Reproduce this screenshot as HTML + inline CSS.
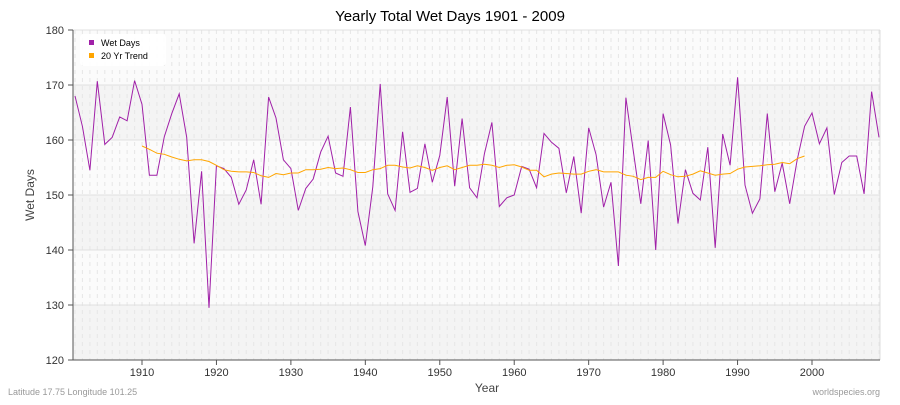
<!DOCTYPE html>
<html><head><meta charset="utf-8"><style>
body{margin:0;background:#fff;font-family:"Liberation Sans",sans-serif;}
</style></head><body>
<svg id="s" width="900" height="400" xmlns="http://www.w3.org/2000/svg" font-family="Liberation Sans, sans-serif"></svg>
<script>
const wd=[168,162.5,154.5,170.7,159.2,160.5,164.2,163.5,170.8,166.5,153.6,153.6,160.6,164.8,168.4,160.5,141.2,154.3,129.5,155.3,154.8,153.2,148.3,150.9,156.4,148.3,167.8,164,156.4,154.8,147.2,151.2,152.9,157.8,160.7,154,153.4,166,147,140.8,151.5,170.2,150.2,147.2,161.5,150.5,151.2,159.3,152.3,157.2,167.8,151.6,163.9,151.3,149.5,157.5,163.2,147.9,149.5,150,155.2,154.7,151.3,161.2,159.6,158.5,150.4,157,146.7,162.2,157.3,147.8,152.3,137.1,167.7,158,148.4,159.9,140,164.8,159.1,144.8,154.6,150.3,149.1,158.7,140.4,161.1,155.4,171.4,151.8,146.7,149.3,164.8,150.6,155.8,148.4,156.3,162.5,164.9,159.3,162.2,150.1,155.9,157.1,157.1,150.2,168.8,160.5];
const tr=[158.9,158.3,157.6,157.4,156.9,156.5,156.2,156.4,156.4,156.1,155.4,154.6,154.3,154.2,154.2,154.1,153.5,153.2,153.9,153.7,154,154,154.6,154.6,154.7,155,154.8,154.9,154.6,154.1,154.1,154.6,154.8,155.4,155.4,155.1,154.9,155.3,155,154.5,155,155.3,154.6,155,155.4,155.4,155.6,155.4,155,155.4,155.5,155.1,154.5,154.5,153.3,153.8,154,153.9,153.8,153.8,154.3,154.6,154.2,154.2,154.2,153.6,153.4,152.8,153.2,153.2,154.3,153.7,153.3,153.4,153.8,154.4,154,153.6,153.8,153.9,154.7,155.1,155.2,155.3,155.5,155.6,155.9,155.7,156.6,157.1];
const X=y=>142+(y-1910)*7.4444, Y=v=>30+(180-v)*5.5;
let h='';
h+='<rect x="73" y="30" width="807" height="330" fill="#fff"/>';
[[170,180,'#fbfbfb'],[160,170,'#f4f4f4'],[150,160,'#fbfbfb'],[140,150,'#f4f4f4'],[130,140,'#fbfbfb'],[120,130,'#f4f4f4']].forEach(b=>{h+=`<rect x="73" y="${Y(b[1])}" width="807" height="55" fill="${b[2]}"/>`;});
for(let y=1901;y<=2009;y++){const x=X(y).toFixed(1);h+=`<line x1="${x}" y1="30" x2="${x}" y2="360" stroke="#e6e6e6" stroke-dasharray="4,4" stroke-width="1"/>`;}
for(let v=120;v<=180;v+=10){h+=`<line x1="73" y1="${Y(v)}" x2="880" y2="${Y(v)}" stroke="#e0e0e0"/>`;h+=`<line x1="68" y1="${Y(v)}" x2="73" y2="${Y(v)}" stroke="#555"/>`;h+=`<text x="64" y="${Y(v)+4}" font-size="11" fill="#333" text-anchor="end">${v}</text>`;}
h+='<line x1="880" y1="30" x2="880" y2="360" stroke="#ddd"/>';
h+='<line x1="73" y1="30" x2="73" y2="360" stroke="#555"/><line x1="73" y1="360" x2="880" y2="360" stroke="#555"/>';
for(let y=1910;y<=2000;y+=10){const x=X(y);h+=`<line x1="${x}" y1="360" x2="${x}" y2="365" stroke="#555"/><text x="${x}" y="376" font-size="11" fill="#333" text-anchor="middle">${y}</text>`;}
h+=`<polyline fill="none" stroke="#a020a8" stroke-width="1" points="${wd.map((v,i)=>X(1901+i).toFixed(1)+','+Y(v).toFixed(1)).join(' ')}"/>`;
h+=`<polyline fill="none" stroke="#ffa500" stroke-width="1" points="${tr.map((v,i)=>X(1910+i).toFixed(1)+','+Y(v).toFixed(1)).join(' ')}"/>`;
h+='<text x="450" y="21" font-size="15" fill="#000" text-anchor="middle">Yearly Total Wet Days 1901 - 2009</text>';
h+='<text x="487" y="392" font-size="12" fill="#444" text-anchor="middle">Year</text>';
h+='<text x="34" y="195" font-size="12" fill="#444" text-anchor="middle" transform="rotate(-90 34 195)">Wet Days</text>';
h+='<rect x="80" y="34" width="86" height="32" rx="4" fill="#fff" opacity="0.9"/>';
h+='<rect x="89" y="40" width="5" height="5" fill="#a020a8"/><text x="101" y="46" font-size="9" fill="#000">Wet Days</text>';
h+='<rect x="89" y="53" width="5" height="5" fill="#ffa500"/><text x="101" y="59" font-size="9" fill="#000">20 Yr Trend</text>';
h+='<text x="8" y="395" font-size="9" fill="#999">Latitude 17.75 Longitude 101.25</text>';
h+='<text x="880" y="395" font-size="9" fill="#999" text-anchor="end">worldspecies.org</text>';
document.getElementById('s').innerHTML=h;
</script>
</body></html>
